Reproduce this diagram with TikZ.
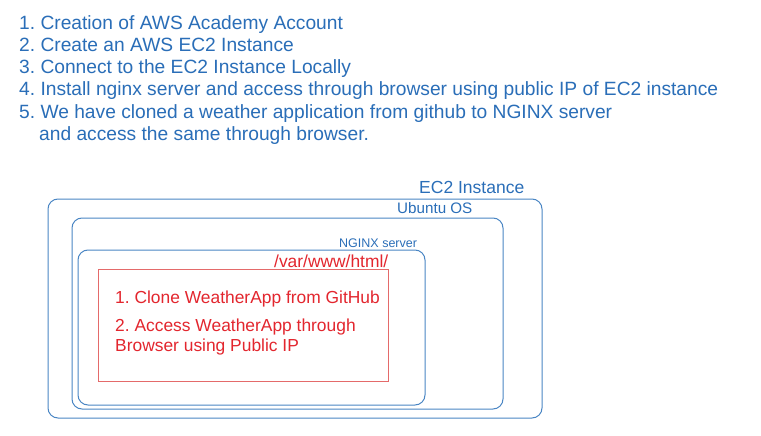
\documentclass[tikz,border=0pt]{standalone}
\usepackage{fontspec}
\setmainfont{Liberation Sans}
\definecolor{bluetxt}{HTML}{2A6EB8}
\definecolor{blueline}{HTML}{4A86C4}
\definecolor{redtxt}{HTML}{E3262E}
\definecolor{redline}{HTML}{E46A6A}
\begin{document}
\frenchspacing
\begin{tikzpicture}[x=1pt,y=-1pt,
  listtxt/.style={anchor=west,inner sep=0pt,text=bluetxt,font=\fontsize{19.2}{22}\selectfont,text height=0.716em,text depth=0pt},
  lbl/.style={anchor=west,inner sep=0pt,text height=0.716em,text depth=0pt},
  layer/.style={draw=blueline,line width=1pt,rounded corners=10pt},
  appbox/.style={draw=redline,line width=1pt}]
\useasboundingbox[fill=white] (0,0) rectangle (761,436);
% list
\node[listtxt] (l1) at (19,25.5) {1. Creation of AWS Academy Account};
\node[listtxt] (l2) at (19,47.8) {2. Create an AWS EC2 Instance};
\node[listtxt] (l3) at (19,70.1) {3. Connect to the EC2 Instance Locally};
\node[listtxt] (l4) at (19,92.4) {4. Install nginx server and access through browser using public IP of EC2 instance};
\node[listtxt] (l5) at (19,114.7) {5. We have cloned a weather application from github to NGINX server};
\node[listtxt] (l6) at (39,137.0) {and access the same through browser.};
% boxes
\draw[layer] (48,199) rectangle (542,418);
\draw[layer] (72,218) rectangle (503,409);
\draw[layer] (78,250) rectangle (425,405);
\draw[appbox] (98,269) rectangle (388,381);
% labels
\node[lbl,text=bluetxt,font=\fontsize{17.5}{20}\selectfont] (ec2) at (419,189.5) {EC2 Instance};
\node[lbl,text=bluetxt,font=\fontsize{15.2}{18}\selectfont] (ubu) at (397,210) {Ubuntu OS};
\node[lbl,text=bluetxt,font=\fontsize{12.5}{15}\selectfont] (ngx) at (339,244) {NGINX server};
\node[lbl,text=redtxt,font=\fontsize{17.4}{20}\selectfont] (www) at (274,263.5) {/var/www/html/};
\node[lbl,text=redtxt,font=\fontsize{17.4}{20}\selectfont] (s1) at (115,299.5) {1. Clone WeatherApp from GitHub};
\node[lbl,text=redtxt,font=\fontsize{17.4}{20}\selectfont] (s2) at (115,327.5) {2. Access WeatherApp through};
\node[lbl,text=redtxt,font=\fontsize{17.4}{20}\selectfont] (s3) at (115,347.5) {Browser using Public IP};
\end{tikzpicture}
\end{document}
